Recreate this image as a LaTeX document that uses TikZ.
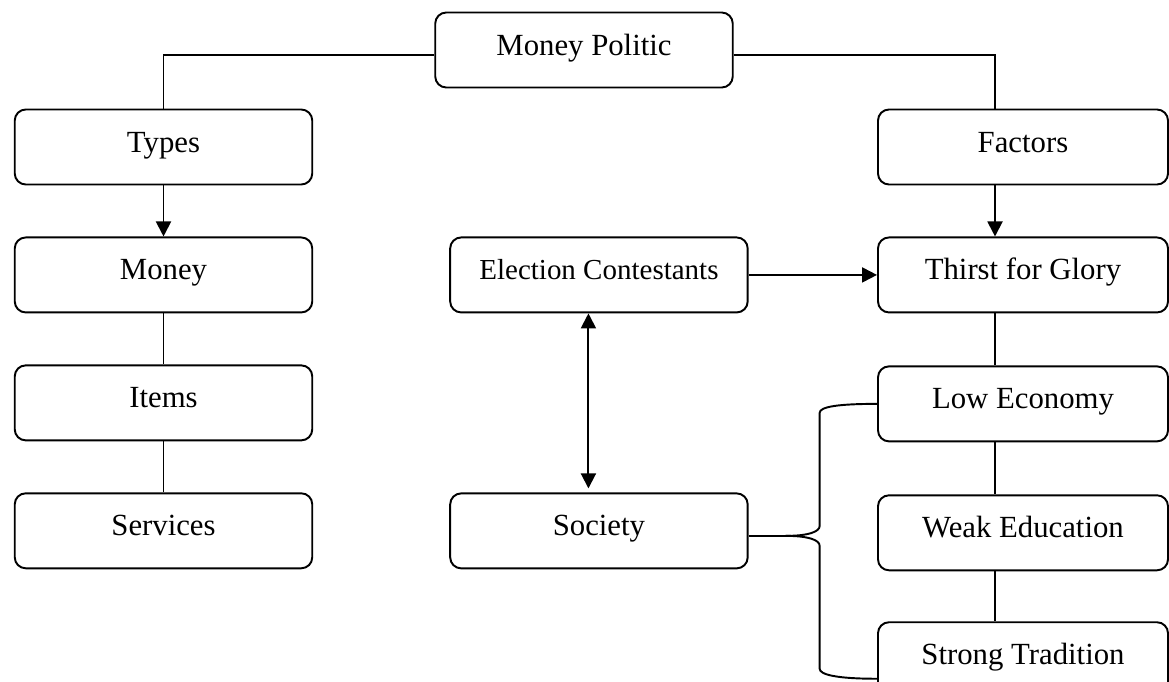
\documentclass[tikz,border=0pt]{standalone}
\usepackage{fontspec}
\setmainfont{Liberation Serif}
\usepackage{tikz}
\usetikzlibrary{positioning, calc, arrows.meta}

\begin{document}
\begin{tikzpicture}[
    box/.style={
        draw,
        rounded corners=0.22cm,
        line width=1.1pt,
        minimum width=5.95cm,
        minimum height=1.5cm,
        text height=0.45cm,
        text depth=0.25cm,
        font=\fontsize{17.5}{21}\selectfont
    },
    rbox/.style={
        box,
        minimum width=5.8cm
    },
    link/.style={
        line width=1.1pt
    },
    >={Triangle[length=0.3cm, width=0.3cm]}
]

\useasboundingbox (0,0) rectangle (23.38,-13.62);

% ==========================================
% TOP
% ==========================================
\node[box] (politic) at (11.68,-1.0) {Money Politic};
\node[box] (types) at (3.27,-2.94) {Types};
\node[rbox] (factors) at (20.46,-2.94) {Factors};

\draw[link] ([yshift=-0.1cm]politic.west) -| (types.north);
\draw[link] ([yshift=-0.1cm]politic.east) -| ([xshift=-0.56cm]factors.north);

% ==========================================
% TYPES
% ==========================================
\node[box, below=1.02cm of types] (money) {Money};
\node[box, below=1.02cm of money] (items) {Items};
\node[box, below=1.02cm of items] (services) {Services};

\draw[link, ->] (types.south) -- (money.north);
\draw[link] (money.south) -- (items.north);
\draw[link] (items.south) -- (services.north);

% ==========================================
% ACTORS
% ==========================================
\node[box, right=2.72cm of money, font=\fontsize{16.5}{19}\selectfont] (election) {Election Contestants};
\node[box, below=3.58cm of election] (society) {Society};

\draw[link, <->, shorten >=0.08cm] ([xshift=-0.21cm]election.south) -- ([xshift=-0.21cm]society.north);

% ==========================================
% FACTORS
% ==========================================
\node[rbox, below=1.02cm of factors] (thirst) {Thirst for Glory};
\node[rbox, below=1.04cm of thirst] (loweco) {Low Economy};
\node[rbox, below=1.04cm of loweco] (weakedu) {Weak Education};
\node[rbox, below=1.0cm of weakedu] (strong) {Strong Tradition};

\draw[link, ->] ([xshift=-0.56cm]factors.south) -- ([xshift=-0.56cm]thirst.north);
\draw[link, ->] (election.east) -- (election.east -| thirst.west);
\draw[link] ([xshift=-0.56cm]thirst.south) -- ([xshift=-0.56cm]loweco.north);
\draw[link] ([xshift=-0.56cm]loweco.south) -- ([xshift=-0.56cm]weakedu.north);
\draw[link] ([xshift=-0.56cm]weakedu.south) -- ([xshift=-0.56cm]strong.north);

% Brace from Society
\coordinate (tip) at ([xshift=0.74cm, yshift=-0.1cm]society.east);
\coordinate (bar) at ([xshift=0.68cm]tip);
\coordinate (lowend) at ([yshift=-0.38cm]strong.west);

\draw[link] ([yshift=-0.1cm]society.east) -- (tip);
\draw[link] (tip) .. controls +(0.45,0) and +(0,-0.12) .. ([yshift=0.2cm]bar)
    -- ([yshift=-0.18cm]bar |- loweco.west)
    .. controls +(0,0.12) and +(-0.8,0) .. (loweco.west);
\draw[link] (tip) .. controls +(0.45,0) and +(0,0.12) .. ([yshift=-0.2cm]bar)
    -- ([yshift=0.2cm]bar |- lowend)
    .. controls +(0,-0.12) and +(-0.8,0) .. (lowend);

\end{tikzpicture}
\end{document}
